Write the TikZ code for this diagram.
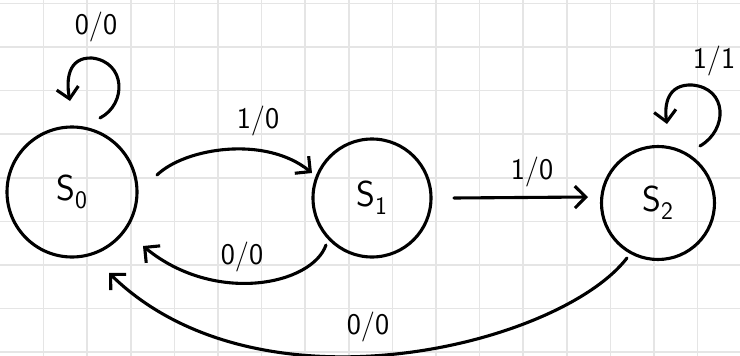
\documentclass[tikz,border=0pt]{standalone}
\usetikzlibrary{arrows.meta,calc}
\begin{document}
\begin{tikzpicture}[x=1pt,y=-1pt,
  state/.style={circle,draw,line width=3.1pt,inner sep=0pt,font=\sffamily\fontsize{36}{38}\selectfont},
  conn/.style={line width=3.1pt,line cap=round,line join=round,-{Straight Barb[length=11pt,width=22pt,line width=3.1pt]}},
  lbl/.style={font=\sffamily\fontsize{30}{32}\selectfont,inner sep=0pt},
  gridline/.style={draw=black!10,line width=1.6pt}]
\useasboundingbox (0,0) rectangle (740,356);
\fill[white] (0,0) rectangle (740,356);
\foreach \k in {1,...,16} \draw[gridline] (43.6*\k,0) -- (43.6*\k,356);
\foreach \k in {0,...,8} \draw[gridline] (0,3.4+43.6*\k) -- (740,3.4+43.6*\k);

\node[state,minimum size=130pt] (s0) at (72,192) {S\textsubscript{0}};
\node[state,minimum size=118pt] (s1) at (372,198) {S\textsubscript{1}};
\node[state,minimum size=113pt] (s2) at (658,203) {S\textsubscript{2}};

% free ends of the connectors (hand-drawn gaps from the circles)
\coordinate (l0s) at (100,118);
\coordinate (l0e) at (70,101);
\coordinate (a01s) at (157,175);
\coordinate (a01e) at (312,173);
\coordinate (a10s) at (326,245);
\coordinate (a10e) at (143,246);
\coordinate (a12s) at (454,198);
\coordinate (a12e) at (588,197);
\coordinate (l2s) at (700,146);
\coordinate (l2e) at (667,124);
\coordinate (a20s) at (627,258);
\coordinate (a20e) at (109,273);

\draw[conn] (l0s) .. controls (127,104) and (126,62) .. (92,58)
               .. controls (68,57) and (66,80) .. (l0e);
\draw[conn] (a01s) .. controls (185,148) and (265,135) .. (a01e);
\draw[conn] (a10s) .. controls (312,285) and (215,305) .. (a10e);
\draw[conn] (a12s) -- (a12e);
\draw[conn] (l2s) .. controls (728,130) and (728,88) .. (692,85)
               .. controls (668,84) and (664,104) .. (l2e);
\draw[conn] (a20s) .. controls (560,345) and (260,420) .. (a20e);

\node[lbl] (t0) at (96,27) {0/0};
\node[lbl] (t01) at (258,121) {1/0};
\node[lbl] (t10) at (242,257) {0/0};
\node[lbl] (t12) at (532,172) {1/0};
\node[lbl] (t22) at (714,61) {1/1};
\node[lbl] (t20) at (368,327) {0/0};
\end{tikzpicture}
\end{document}
